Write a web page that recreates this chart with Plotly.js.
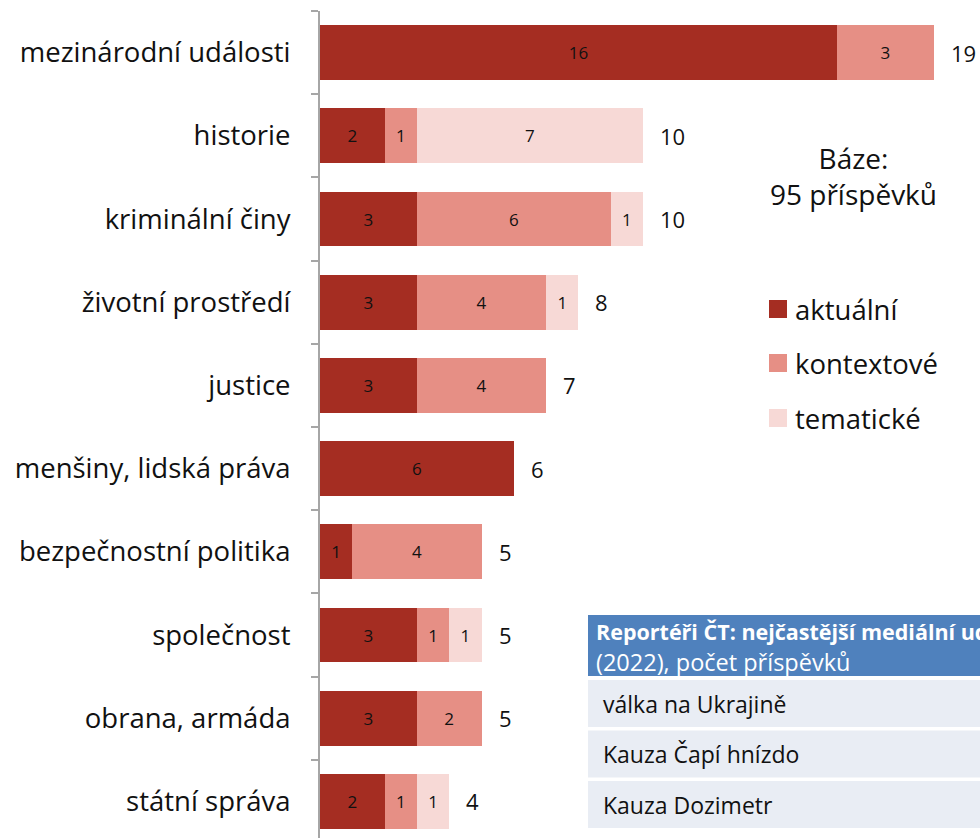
<!DOCTYPE html>
<html>
<head>
<meta charset="utf-8">
<script src="https://cdn.plot.ly/plotly-3.0.1.min.js"></script>
<style>html,body{margin:0;padding:0;background:#fff;}#chart{width:980px;height:838px;}</style>
</head>
<body>
<div id="chart"></div>
<script>
// ---- data ----
const categories = ["mezinárodní události","historie","kriminální činy","životní prostředí","justice","menšiny, lidská práva","bezpečnostní politika","společnost","obrana, armáda","státní správa"];
const aktualni   = [16, 2, 3, 3, 3, 6, 1, 3, 3, 2];
const kontextove = [3, 1, 6, 4, 4, 0, 4, 1, 2, 1];
const tematicke  = [0, 7, 1, 1, 0, 0, 0, 1, 0, 1];
const seriesNames = ["aktuální","kontextové","tematické"];
const baseText = "Báze:<br>95 příspěvků";
const tableTitle = "Reportéři ČT: nejčastější mediální události";
const tableSubtitle = "(2022), počet příspěvků";
const tableRows = ["válka na Ukrajině","Kauza Čapí hnízdo","Kauza Dozimetr"];

// ---- styles ----
const colors = ["#A52D22","#E68F85","#F7D9D6"];
const FONT = "'Open Sans', Lato, sans-serif";
const W = 980, H = 838;
const M = {l:320, r:0, t:11, b:0};
const plotW = W - M.l - M.r, plotH = H - M.t - M.b;
const pxPerUnit = 32.3;
const bandPx = 83.2;
const px2x = p => (p - M.l) / plotW;
const px2y = p => (H - M.b - p) / plotH;

const seriesVals = [aktualni, kontextove, tematicke];
const traces = seriesVals.map((vals, i) => ({
  type: "bar",
  orientation: "h",
  name: seriesNames[i],
  y: categories,
  x: vals,
  text: vals.map(v => v > 0 ? String(v) : ""),
  texttemplate: "%{text}",
  textposition: "inside",
  insidetextanchor: "middle",
  textangle: 0,
  constraintext: "none",
  insidetextfont: {family: FONT, size: 17, color: "#111"},
  marker: {color: colors[i], line: {width: 0}},
  hoverinfo: "skip",
  showlegend: false
}));

// table header text (clipped by the table column, as in the reference)
traces.push({
  type: "table",
  domain: {x: [px2x(588), 1], y: [px2y(678), px2y(609)]},
  columnwidth: [1],
  header: {
    values: ["<span style=\"font-size:21.5px\"><b>" + tableTitle + "</b></span><br>" + tableSubtitle],
    align: "left",
    fill: {color: "rgba(0,0,0,0)"},
    line: {color: "rgba(0,0,0,0)", width: 0},
    font: {family: FONT, size: 23.5, color: "#ffffff"},
    height: 68
  },
  cells: {values: [[]], height: 0, line: {width: 0}, fill: {color: "rgba(0,0,0,0)"}}
});

const totals = categories.map((c, i) => aktualni[i] + kontextove[i] + tematicke[i]);
const annotations = categories.map((c, i) => ({
  x: totals[i], y: c, xref: "x", yref: "y",
  text: String(totals[i]), showarrow: false,
  xanchor: "left", xshift: 15,
  font: {family: FONT, size: 22, color: "#111"}
}));
annotations.push({
  x: px2x(853), y: px2y(176), xref: "paper", yref: "paper",
  text: baseText, showarrow: false, xanchor: "center", yanchor: "middle",
  font: {family: FONT, size: 28, color: "#111"}
});
const legendY = [309, 363, 418];
const shapes = [];
// table header background
shapes.push({
  type: "rect", xref: "paper", yref: "paper", layer: "below",
  x0: px2x(588), x1: 1, y0: px2y(676), y1: px2y(615),
  fillcolor: "#4F81BD", line: {width: 0}
});
seriesNames.forEach((n, i) => {
  shapes.push({
    type: "rect", xref: "paper", yref: "paper",
    x0: px2x(769), x1: px2x(787), y0: px2y(legendY[i] + 9), y1: px2y(legendY[i] - 9),
    fillcolor: colors[i], line: {width: 0}
  });
  annotations.push({
    x: px2x(793), y: px2y(legendY[i]), xref: "paper", yref: "paper",
    text: n, showarrow: false, xanchor: "left", yanchor: "middle",
    font: {family: FONT, size: 27.5, color: "#111"}
  });
});

// table rows
const rowTops = [680, 730.5, 781];
tableRows.forEach((r, i) => {
  shapes.push({
    type: "rect", xref: "paper", yref: "paper", layer: "below",
    x0: px2x(588), x1: 1, y0: px2y(rowTops[i] + 47), y1: px2y(rowTops[i]),
    fillcolor: "#E9EDF4", line: {width: 0}
  });
  annotations.push({
    x: px2x(601), y: px2y(rowTops[i] + 23.5), xref: "paper", yref: "paper",
    text: r, showarrow: false, xanchor: "left", yanchor: "middle",
    font: {family: FONT, size: 23, color: "#111"}
  });
});

const nBottom = (plotH / bandPx) - 0.5;
const layout = {
  width: W, height: H,
  margin: M,
  paper_bgcolor: "#fff", plot_bgcolor: "#fff",
  barmode: "stack",
  bargap: 0.34,
  showlegend: false,
  xaxis: {range: [0, plotW / pxPerUnit], visible: false, fixedrange: true},
  yaxis: {
    type: "category",
    range: [nBottom, -0.5],
    tickson: "boundaries",
    ticks: "outside", ticklen: 7, tickwidth: 2, tickcolor: "#A6A6A6",
    showline: true, linecolor: "#A6A6A6", linewidth: 2,
    showgrid: false, zeroline: false,
    ticklabelstandoff: 22,
    tickfont: {family: FONT, size: 27.5, color: "#111"},
    fixedrange: true
  },
  annotations: annotations,
  shapes: shapes,
  font: {family: FONT}
};

Plotly.newPlot("chart", traces, layout, {displayModeBar: false, staticPlot: true});
</script>
</body>
</html>
